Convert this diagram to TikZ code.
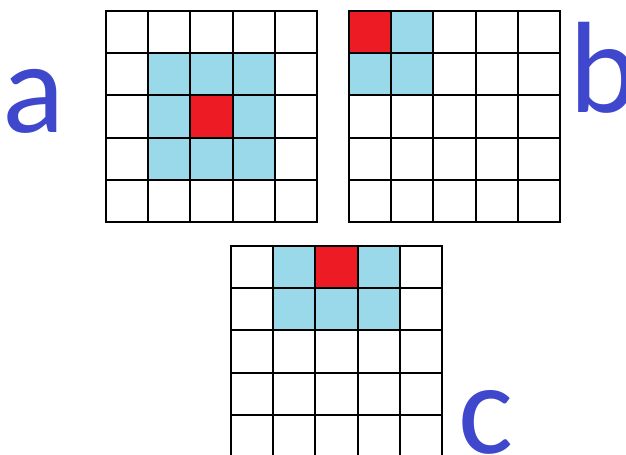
\documentclass[tikz,border=0pt]{standalone}
\usepackage{fontspec}
\setmainfont{Carlito}
\definecolor{cellred}{RGB}{237,28,36}
\definecolor{cellblue}{RGB}{153,217,234}
\definecolor{labelblue}{RGB}{63,72,204}
\newcommand\cellgrid[2]{%
  \foreach \k in {0,...,5} {
    \draw[gridline] (#1+42.2*\k,#2) -- (#1+42.2*\k,#2+211);
    \draw[gridline] (#1,#2+42.2*\k) -- (#1+211,#2+42.2*\k);
  }}
\begin{document}
\begin{tikzpicture}[
    x=0.02cm, y=-0.02cm,
    gridline/.style={line width=1.1pt, black, line cap=rect},
    centre/.style={fill=cellred},
    neighbour/.style={fill=cellblue},
    label/.style={text=labelblue, inner sep=0pt, anchor=base,
      font=\fontsize{74}{80}\selectfont}
  ]
  \useasboundingbox (0,0) rectangle (626,455);
  \clip (0,0) rectangle (626,455);
  % grid a: inner cell
  \foreach \i/\j in {1/1,2/1,3/1,1/2,3/2,1/3,2/3,3/3}
    \fill[neighbour] (106+42.2*\i,11+42.2*\j) rectangle ++(42.2,42.2);
  \fill[centre] (106+42.2*2,11+42.2*2) rectangle ++(42.2,42.2);
  \cellgrid{106}{11}
  % grid b: corner cell
  \foreach \i/\j in {1/0,0/1,1/1}
    \fill[neighbour] (349+42.2*\i,11+42.2*\j) rectangle ++(42.2,42.2);
  \fill[centre] (349,11) rectangle ++(42.2,42.2);
  \cellgrid{349}{11}
  % grid c: edge cell
  \foreach \i/\j in {1/0,3/0,1/1,2/1,3/1}
    \fill[neighbour] (231+42.2*\i,246+42.2*\j) rectangle ++(42.2,42.2);
  \fill[centre] (231+42.2*2,246) rectangle ++(42.2,42.2);
  \cellgrid{231}{246}
  \node[label] (la) at (34,133) {a};
  \node[label] (lb) at (604,113) {b};
  \node[label] (lc) at (486,454) {c};
\end{tikzpicture}
\end{document}
